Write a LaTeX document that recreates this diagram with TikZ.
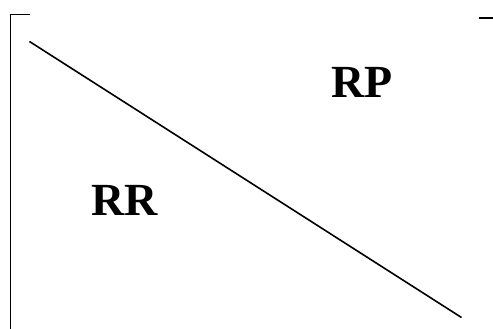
\documentclass[tikz,border=0pt]{standalone}
\usepackage{fontspec}
\setmainfont{Liberation Serif}
\begin{document}
\begin{tikzpicture}[x=1pt,y=-1pt,
  edge/.style={line width=1.6pt,black},
  lbl/.style={font=\fontsize{46}{50}\selectfont\bfseries,inner sep=0pt,anchor=base}]
\useasboundingbox (0,0) rectangle (493,329);
\coordinate (vt) at (10.5,14.5);
\coordinate (vb) at (10.5,330);
\coordinate (ht) at (30,14.5);
\coordinate (rt1) at (479,18);
\coordinate (rt2) at (493,18);
\coordinate (d1) at (29.5,41.5);
\coordinate (d2) at (461.5,317.5);
\draw[edge] (vb) -- (vt) -- (ht);
\draw[edge] (rt1) -- (rt2);
\draw[edge] (d1) -- (d2);
\node[lbl] (rp) at (362,97.7) {RP};
\node[lbl] (rr) at (124.5,215) {RR};
\end{tikzpicture}
\end{document}
